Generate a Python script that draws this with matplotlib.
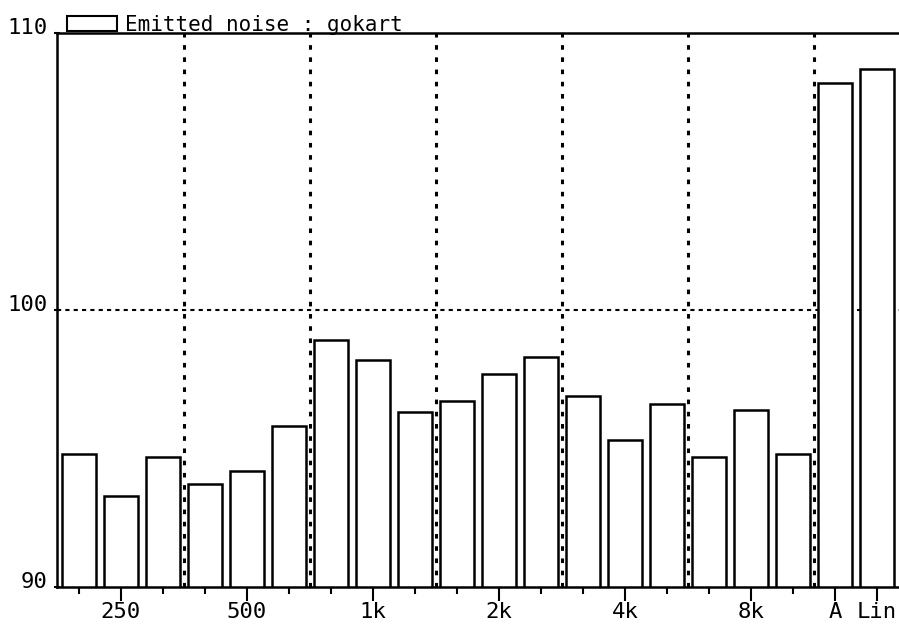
import matplotlib
matplotlib.use('Agg')
import matplotlib.pyplot as plt
from matplotlib.patches import Patch
from matplotlib.transforms import ScaledTranslation

plt.rcParams['font.family'] = ['DejaVu Sans Mono']

# one bar per third-octave band, then the A-weighted and linear totals
levels = [94.8, 93.3, 94.7, 93.7, 94.2, 95.8, 98.9, 98.2, 96.3, 96.7,
          97.7, 98.3, 96.9, 95.3, 96.6, 94.7, 96.4, 94.8, 108.2, 108.7]
label_pos = [1, 4, 7, 10, 13, 16, 18, 19]
label_txt = ['250', '500', '1k', '2k', '4k', '8k', 'A', 'Lin']
octave_breaks = [2.5, 5.5, 8.5, 11.5, 14.5, 17.5]
series_name = 'Emitted noise : gokart'

fig = plt.figure(figsize=(8.99, 6.28), dpi=100)
ax = fig.add_axes([0.0634, 0.0653, 0.9366, 0.8822])

x = list(range(len(levels)))
ax.bar(x, [v - 90 for v in levels], bottom=90, width=0.8,
       facecolor='white', edgecolor='black', linewidth=1.8, zorder=3)

# dotted separators
for b in octave_breaks:
    ax.axvline(b, color='black', linestyle=(0, (1.5, 2.5)), linewidth=2.2, zorder=2)
ax.axhline(100, color='black', linestyle=(0, (2, 2)), linewidth=1.5, zorder=2)

ax.set_xlim(-0.52, 19.52)
ax.set_ylim(90, 110)

ax.set_xticks(label_pos)
ax.set_xticklabels(label_txt, fontsize=16)
ax.set_xticks(x, minor=True)
ax.tick_params(axis='x', which='major', length=10, width=1.5, direction='out', pad=1)
ax.tick_params(axis='x', which='minor', length=5, width=1.5, direction='out')
ax.set_yticks([90, 100, 110])
ax.set_yticklabels(['90', '100', '110'], fontsize=16)
ax.tick_params(axis='y', length=4, width=1.5, direction='inout', pad=5)
shift = ScaledTranslation(0, 5 / 72, fig.dpi_scale_trans)
for lab in ax.get_yticklabels():
    lab.set_transform(lab.get_transform() + shift)

for side in ['left', 'top', 'bottom']:
    ax.spines[side].set_linewidth(1.8)
ax.spines['right'].set_visible(False)

ax.legend(handles=[Patch(facecolor='white', edgecolor='black', linewidth=1.5)],
          labels=[series_name], loc='lower left', bbox_to_anchor=(0.012, 0.997),
          frameon=False, fontsize=15, handlelength=2.4, handleheight=0.7,
          handletextpad=0.4, borderpad=0, borderaxespad=0)

fig.savefig('out.png', dpi=100)
